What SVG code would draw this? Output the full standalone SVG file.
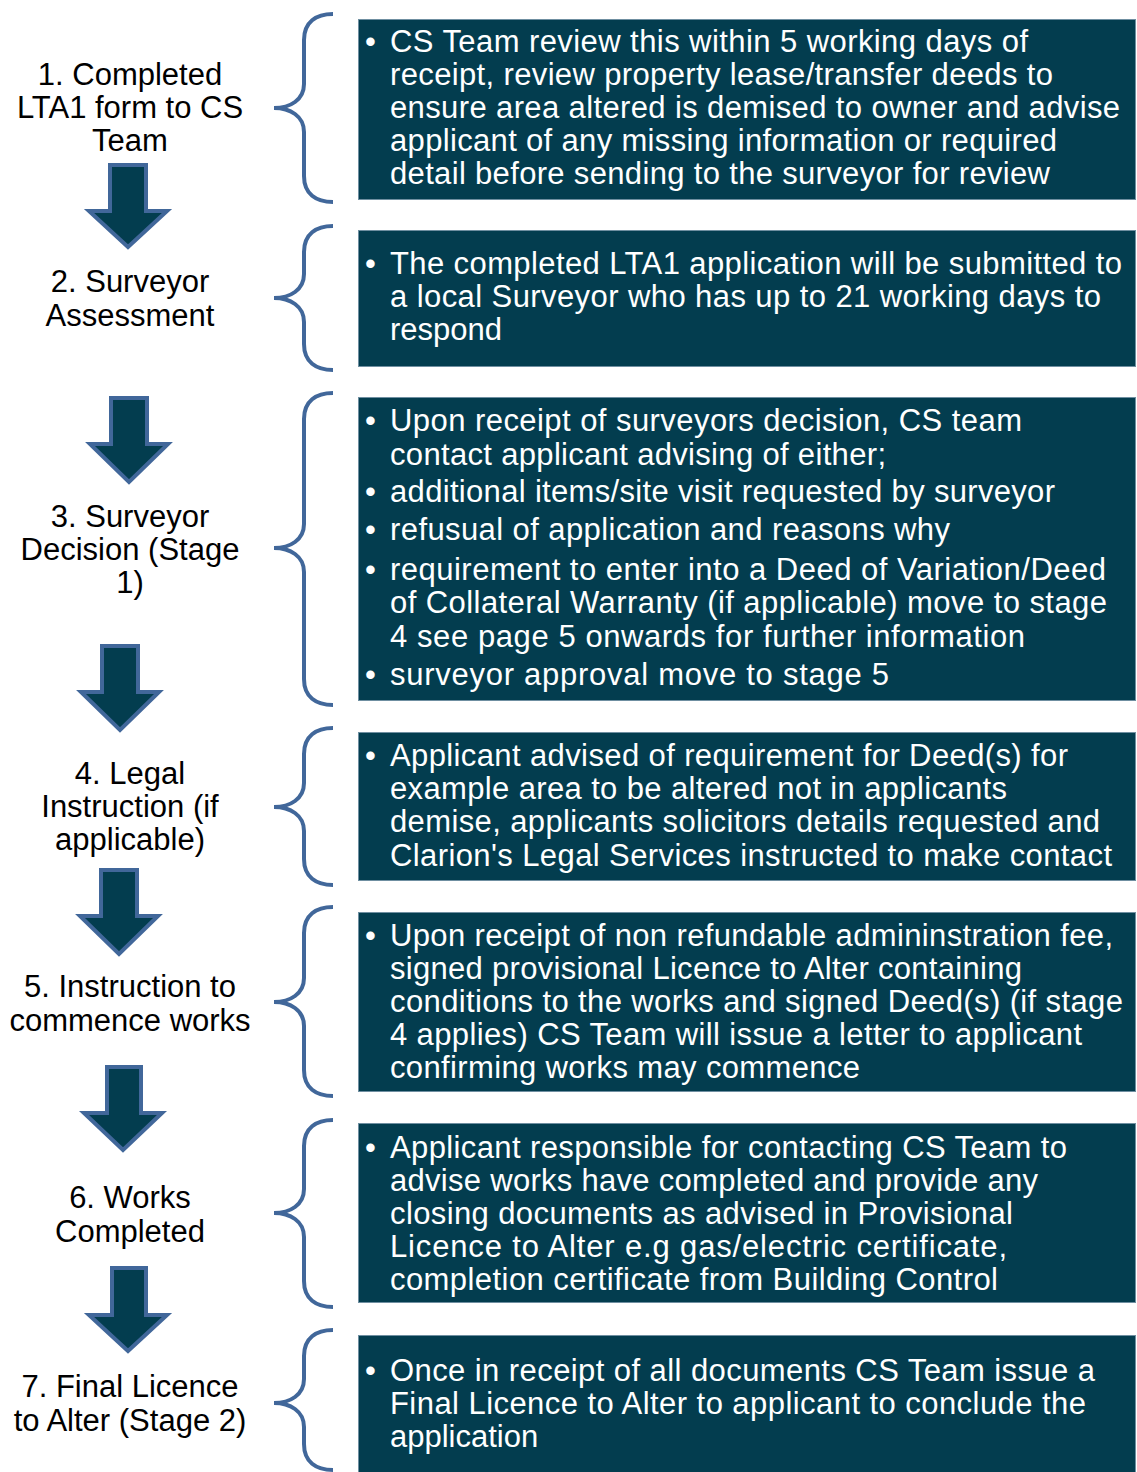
<svg xmlns="http://www.w3.org/2000/svg" width="1137" height="1472" viewBox="0 0 1137 1472">
<style>
text{font-family:"Liberation Sans",Arial,sans-serif;font-size:31px}
.lbl{fill:#000;text-anchor:middle}
.box{fill:#033d4f;stroke:#6f8fa1;stroke-width:1}
.txt{fill:#fff}
.bul{fill:#fff}
.brace{fill:none;stroke:#41679a;stroke-width:4;stroke-linecap:butt}
.arrow{fill:#033d4f;stroke:#41679a;stroke-width:4;stroke-linejoin:miter}
</style>
<rect width="1137" height="1472" fill="#fff"/>

<g id="connectors">
<polygon class="arrow" points="110,165 146,165 146,211 167,211 128,247 89,211 110,211"/>
<polygon class="arrow" points="111,398 147,398 147,444 168,444 129,482 90,444 111,444"/>
<polygon class="arrow" points="102,646 138,646 138,692 159,692 120,730 81,692 102,692"/>
<polygon class="arrow" points="101,870 137,870 137,916 158,916 119,954 80,916 101,916"/>
<polygon class="arrow" points="107,1067 141,1067 141,1113 162,1113 123,1150 84,1113 107,1113"/>
<polygon class="arrow" points="112,1268 146,1268 146,1315 167,1315 128,1351 89,1315 112,1315"/>
</g>

<g id="step1">
<text class="lbl" x="130" y="85">1. Completed</text>
<text class="lbl" x="130" y="118">LTA1 form to CS</text>
<text class="lbl" x="130" y="151">Team</text>
<path class="brace" d="M333,14 C316,14 304,22 304,40 L304,84 C304,100 290,108 274,108 C290,108 304,116 304,132 L304,176 C304,194 316,202 333,202"/>
<rect class="box" x="358.5" y="19.5" width="777" height="180"/>
<text class="bul" x="365" y="52">•</text>
<text class="txt" x="390" y="52" textLength="638" lengthAdjust="spacing">CS Team review this within 5 working days of</text>
<text class="txt" x="390" y="85" textLength="663" lengthAdjust="spacing">receipt, review property lease/transfer deeds to</text>
<text class="txt" x="390" y="118" textLength="730" lengthAdjust="spacing">ensure area altered is demised to owner and advise</text>
<text class="txt" x="390" y="151" textLength="667" lengthAdjust="spacing">applicant of any missing information or required</text>
<text class="txt" x="390" y="184" textLength="660" lengthAdjust="spacing">detail before sending to the surveyor for review</text>
</g>

<g id="step2">
<text class="lbl" x="130" y="292">2. Surveyor</text>
<text class="lbl" x="130" y="326">Assessment</text>
<path class="brace" d="M333,226 C316,226 304,234 304,252 L304,274 C304,290 290,298 274,298 C290,298 304,306 304,322 L304,344 C304,362 316,370 333,370"/>
<rect class="box" x="358.5" y="230.5" width="777" height="136"/>
<text class="bul" x="365" y="274">•</text>
<text class="txt" x="390" y="274" textLength="732" lengthAdjust="spacing">The completed LTA1 application will be submitted to</text>
<text class="txt" x="390" y="307" textLength="711" lengthAdjust="spacing">a local Surveyor who has up to 21 working days to</text>
<text class="txt" x="390" y="340">respond</text>
</g>

<g id="step3">
<text class="lbl" x="130" y="527">3. Surveyor</text>
<text class="lbl" x="130" y="560">Decision (Stage</text>
<text class="lbl" x="130" y="593">1)</text>
<path class="brace" d="M333,393 C316,393 304,401 304,419 L304,524 C304,540 290,548 274,548 C290,548 304,556 304,572 L304,679 C304,697 316,705 333,705"/>
<rect class="box" x="358.5" y="397.5" width="777" height="303"/>
<text class="bul" x="365" y="431">•</text>
<text class="txt" x="390" y="431" textLength="632" lengthAdjust="spacing">Upon receipt of surveyors  decision, CS team</text>
<text class="txt" x="390" y="465" textLength="496" lengthAdjust="spacing">contact applicant advising of either;</text>
<text class="bul" x="365" y="502">•</text>
<text class="txt" x="390" y="502" textLength="665" lengthAdjust="spacing">additional items/site visit requested by surveyor</text>
<text class="bul" x="365" y="540">•</text>
<text class="txt" x="390" y="540" textLength="560" lengthAdjust="spacing">refusual of application and reasons why</text>
<text class="bul" x="365" y="580">•</text>
<text class="txt" x="390" y="580" textLength="716" lengthAdjust="spacing">requirement to enter into a Deed of Variation/Deed</text>
<text class="txt" x="390" y="613" textLength="717" lengthAdjust="spacing">of Collateral Warranty (if applicable) move to stage</text>
<text class="txt" x="390" y="647" textLength="635" lengthAdjust="spacing">4 see  page 5 onwards for further information</text>
<text class="bul" x="365" y="685">•</text>
<text class="txt" x="390" y="685" textLength="499" lengthAdjust="spacing">surveyor approval move  to stage 5</text>
</g>

<g id="step4">
<text class="lbl" x="130" y="784">4. Legal</text>
<text class="lbl" x="130" y="817">Instruction (if</text>
<text class="lbl" x="130" y="850">applicable)</text>
<path class="brace" d="M333,728 C316,728 304,736 304,754 L304,783 C304,799 290,807 274,807 C290,807 304,815 304,831 L304,859 C304,877 316,885 333,885"/>
<rect class="box" x="358.5" y="732.5" width="777" height="148"/>
<text class="bul" x="365" y="766">•</text>
<text class="txt" x="390" y="766" textLength="678" lengthAdjust="spacing">Applicant advised of requirement for Deed(s) for</text>
<text class="txt" x="390" y="799" textLength="617" lengthAdjust="spacing">example area to be altered not in applicants</text>
<text class="txt" x="390" y="832" textLength="710" lengthAdjust="spacing">demise, applicants solicitors details requested and</text>
<text class="txt" x="390" y="866" textLength="722" lengthAdjust="spacing">Clarion's Legal Services instructed to make contact</text>
</g>

<g id="step5">
<text class="lbl" x="130" y="997">5. Instruction  to</text>
<text class="lbl" x="130" y="1031">commence works</text>
<path class="brace" d="M333,907 C316,907 304,915 304,933 L304,978 C304,994 290,1002 274,1002 C290,1002 304,1010 304,1026 L304,1070 C304,1088 316,1096 333,1096"/>
<rect class="box" x="358.5" y="912.5" width="777" height="179"/>
<text class="bul" x="365" y="946">•</text>
<text class="txt" x="390" y="946" textLength="723" lengthAdjust="spacing">Upon receipt of non refundable admininstration fee,</text>
<text class="txt" x="390" y="979" textLength="632" lengthAdjust="spacing">signed provisional Licence to Alter containing</text>
<text class="txt" x="390" y="1012" textLength="733" lengthAdjust="spacing">conditions to the works and signed Deed(s) (if stage</text>
<text class="txt" x="390" y="1045" textLength="692" lengthAdjust="spacing">4 applies) CS Team will issue a letter to applicant</text>
<text class="txt" x="390" y="1078" textLength="470" lengthAdjust="spacing">confirming works may commence</text>
</g>

<g id="step6">
<text class="lbl" x="130" y="1208">6. Works</text>
<text class="lbl" x="130" y="1242">Completed</text>
<path class="brace" d="M333,1120 C316,1120 304,1128 304,1146 L304,1189 C304,1205 290,1213 274,1213 C290,1213 304,1221 304,1237 L304,1281 C304,1299 316,1307 333,1307"/>
<rect class="box" x="358.5" y="1123.5" width="777" height="179"/>
<text class="bul" x="365" y="1158">•</text>
<text class="txt" x="390" y="1158" textLength="677" lengthAdjust="spacing">Applicant responsible for contacting CS Team to</text>
<text class="txt" x="390" y="1191" textLength="648" lengthAdjust="spacing">advise works have completed and provide any</text>
<text class="txt" x="390" y="1224" textLength="623" lengthAdjust="spacing">closing documents as advised in Provisional</text>
<text class="txt" x="390" y="1257" textLength="617" lengthAdjust="spacing">Licence to Alter e.g gas/electric certificate,</text>
<text class="txt" x="390" y="1290" textLength="608" lengthAdjust="spacing">completion certificate from Building Control</text>
</g>

<g id="step7">
<text class="lbl" x="130" y="1397">7. Final Licence</text>
<text class="lbl" x="130" y="1431">to Alter (Stage 2)</text>
<path class="brace" d="M333,1330 C316,1330 304,1338 304,1356 L304,1379 C304,1395 290,1403 274,1403 C290,1403 304,1411 304,1427 L304,1444 C304,1462 316,1470 333,1470"/>
<rect class="box" x="358.5" y="1335.5" width="777" height="140"/>
<text class="bul" x="365" y="1381">•</text>
<text class="txt" x="390" y="1381" textLength="705" lengthAdjust="spacing">Once in receipt of all documents CS Team issue a</text>
<text class="txt" x="390" y="1414" textLength="696" lengthAdjust="spacing">Final Licence to Alter to applicant to conclude the</text>
<text class="txt" x="390" y="1447">application</text>
</g>
</svg>
